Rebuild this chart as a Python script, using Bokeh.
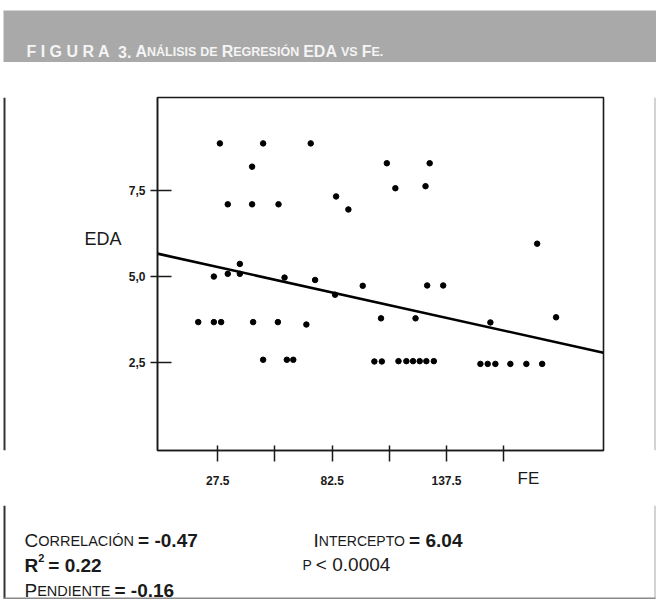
from bokeh.plotting import figure
from bokeh.models import FixedTicker, CustomJSTickFormatter, Range1d, LinearAxis
from bokeh.layouts import column, row
from bokeh.core.properties import value
from bokeh.embed import file_html
from bokeh.resources import INLINE

# ---------------- data ----------------
fe = [28.5, 49.3, 72.2, 108.8, 129.4, 44.0, 112.9, 127.4, 32.3, 44.0,
      56.7, 84.4, 90.3, 181.1, 38.1, 25.6, 32.3, 38.1, 59.6, 74.3,
      83.9, 97.2, 128.2, 135.9, 18.1, 25.6, 29.1, 44.5, 56.4, 70.1,
      106.0, 122.6, 158.6, 190.2, 49.3, 60.7, 63.8, 102.8, 106.4, 114.4,
      118.2, 121.4, 124.6, 127.8, 131.4, 153.8, 157.3, 161.0, 168.2, 175.9,
      183.5]
eda = [8.89, 8.89, 8.89, 8.31, 8.31, 8.21, 7.58, 7.64, 7.11, 7.11,
       7.11, 7.34, 6.96, 5.96, 5.37, 5.00, 5.08, 5.08, 4.97, 4.90,
       4.47, 4.73, 4.74, 4.74, 3.67, 3.67, 3.67, 3.67, 3.67, 3.60,
       3.78, 3.78, 3.66, 3.81, 2.57, 2.57, 2.57, 2.52, 2.52, 2.53,
       2.53, 2.53, 2.53, 2.53, 2.53, 2.45, 2.45, 2.45, 2.45, 2.45,
       2.45]
x_ticks = [27.5, 82.5, 137.5]
x_minor_ticks = [55, 110, 165]
y_ticks = [2.5, 5.0, 7.5]
x_lim = [-1.5, 213.0]
y_lim = [-0.08, 10.23]
reg_intercept = 5.65
reg_slope = -0.0135
x_title = "FE"
x_title_at = 176.9      # where the axis title sits along x
y_title = "EDA"
y_title_at = 6.11       # where the axis title sits along y

title_main = "F I G U R A"
title_num = "3."
stat_correlacion = "-0.47"
stat_r2 = "0.22"
stat_pendiente = "-0.16"
stat_intercepto = "6.04"
stat_p = "0.0004"

INK = "#1a1a1a"
FONT = "Liberation Sans"
WHITE = "#f4f4f4"
BAND = "#a9a9a9"

W = 656
H_HEAD = 62
H_MAIN = 443
H_FOOT = 96
LSTRIP = 6
RSTRIP = 4


def text_fig(w, h):
    f = figure(width=w, height=h, output_backend="svg", toolbar_location=None,
               x_range=Range1d(0, w), y_range=Range1d(h, 0),
               x_axis_type=None, y_axis_type=None, min_border=0,
               background_fill_color="white", border_fill_color="white")
    f.outline_line_color = None
    return f


REG = {'A': .667, 'C': .722, 'D': .722, 'E': .667, 'F': .611, 'G': .778, 'I': .278,
       'L': .556, 'N': .722, 'O': .778, 'P': .667, 'R': .722, 'S': .667, 'T': .611,
       'U': .722, 'V': .667, 'Á': .667, 'Ó': .778, ' ': .278, '.': .278, ',': .278,
       '-': .333, '=': .584, '<': .584}
BOLD = dict(REG)
BOLD.update({'A': .722, 'L': .611, 'Á': .722})


def text_width(t, size, weight):
    tab = BOLD if weight == "bold" else REG
    return sum(tab.get(c, .556) for c in t) * size


def draw_runs(f, runs, color):
    xs, ys, ts, sizes, styles = [], [], [], [], []
    for segs, x0, base in runs:
        x = x0
        for seg in segs:
            if isinstance(seg, (int, float)):
                x += seg
                continue
            t, size, weight = seg[0], seg[1], seg[2]
            rise = seg[3] if len(seg) > 3 else 0
            xs.append(x); ys.append(base - rise); ts.append(t)
            sizes.append(f"{size}px"); styles.append(weight)
            x += text_width(t, size, weight)
    f.text(x=xs, y=ys, text=ts, text_font=value(FONT), text_font_size=sizes,
           text_font_style=styles, text_color=color,
           text_align="left", text_baseline="alphabetic")


B, N = "bold", "normal"
SC = 12.5   # small-capital size in the header

# ---------------- header ----------------
head = text_fig(W, H_HEAD)
head.quad(left=[3], right=[W], top=[10], bottom=[H_HEAD], fill_color=BAND, line_color=None)
draw_runs(head, [([(title_main, 16, B), 8, (title_num, 16, B), 4,
                   ("A", 16, B), ("NÁLISIS", SC, B), 4, ("DE", SC, B), 4,
                   ("R", 16, B), ("EGRESIÓN", SC, B), 4, ("EDA", 16, B), 4,
                   ("VS", SC, B), 4, ("F", 16, B), ("E.", SC, B)], 26, 51)], WHITE)

# ---------------- main plot ----------------
p = figure(width=W - LSTRIP - RSTRIP, height=H_MAIN, output_backend="svg", toolbar_location=None,
           x_range=Range1d(*x_lim), y_range=Range1d(*y_lim),
           min_border_left=151, min_border_right=49, min_border_top=35, min_border_bottom=55,
           background_fill_color="white", border_fill_color="white")
p.grid.visible = False
p.outline_line_color = INK
p.outline_line_width = 1.6

xa = p.xaxis[0]
xa.ticker = FixedTicker(ticks=x_ticks, minor_ticks=x_minor_ticks)
xa.major_tick_in = 5
xa.major_tick_out = 11
xa.minor_tick_in = 5
xa.minor_tick_out = 11
xa.major_label_standoff = 14

ya = p.yaxis[0]
ya.ticker = FixedTicker(ticks=y_ticks, minor_ticks=[])
ya.major_tick_in = 14
ya.major_tick_out = 7
ya.major_label_standoff = 5
ya.formatter = CustomJSTickFormatter(code="return tick.toFixed(1).replace('.', ',')")

for ax in (xa, ya):
    ax.axis_line_color = INK
    ax.axis_line_width = 1.5
    ax.major_tick_line_color = INK
    ax.major_tick_line_width = 1.5
    ax.minor_tick_line_color = INK
    ax.minor_tick_line_width = 1.5
    ax.major_label_text_font = FONT
    ax.major_label_text_font_style = "bold"
    ax.major_label_text_font_size = "12px"
    ax.major_label_text_color = INK

# axis titles placed as single-tick label axes
x_title_axis = LinearAxis(ticker=FixedTicker(ticks=[x_title_at], minor_ticks=[]),
                          formatter=CustomJSTickFormatter(code=f"return '{x_title}'"),
                          major_tick_in=0, major_tick_out=0, axis_line_color=None,
                          major_label_standoff=-19, major_label_text_font=FONT,
                          major_label_text_font_size="17px", major_label_text_color=INK)
p.add_layout(x_title_axis, "below")
y_title_axis = LinearAxis(ticker=FixedTicker(ticks=[y_title_at], minor_ticks=[]),
                          formatter=CustomJSTickFormatter(code=f"return '{y_title}'"),
                          major_tick_in=0, major_tick_out=0, axis_line_color=None,
                          major_label_standoff=4, major_label_text_font=FONT,
                          major_label_text_font_size="18px", major_label_text_color=INK)
p.add_layout(y_title_axis, "left")

p.scatter(fe, eda, size=5.5, color="black")
line_x = [x_lim[0], x_lim[1]]
line_y = [reg_intercept + reg_slope * v for v in line_x]
p.line(line_x, line_y, line_color="black", line_width=2.6)

left_strip = text_fig(LSTRIP, H_MAIN)
left_strip.quad(left=[3], right=[5], top=[0], bottom=[H_MAIN], fill_color="#333333", line_color=None)
right_strip = text_fig(RSTRIP, H_MAIN)
right_strip.quad(left=[2], right=[3], top=[0], bottom=[H_MAIN], fill_color="#a8a8a8", line_color=None)

# ---------------- footer ----------------
foot = text_fig(W, H_FOOT)
foot.quad(left=[3], right=[5], top=[0], bottom=[93], fill_color="#333333", line_color=None)
foot.quad(left=[W - 2], right=[W - 1], top=[0], bottom=[93], fill_color="#a8a8a8", line_color=None)
foot.quad(left=[3], right=[W - 1], top=[92], bottom=[93.5], fill_color="#8a8a8a", line_color=None)
draw_runs(foot, [
    ([("C", 19, N), ("ORRELACIÓN", 14.5, N), 4, ("= " + stat_correlacion, 19, B)], 24, 35),
    ([("R", 19, B), ("2", 11, B, 8), 4, ("= " + stat_r2, 19, B)], 24, 60),
    ([("P", 19, N), ("ENDIENTE", 14.5, N), 4, ("= " + stat_pendiente, 19, B)], 24, 85),
    ([("I", 19, N), ("NTERCEPTO", 14, N), 4, ("= " + stat_intercepto, 19, B)], 313, 35),
    ([("P", 14, N), 4, ("< " + stat_p, 19, N)], 302, 59),
], INK)

layout = column(head, row(left_strip, p, right_strip), foot)
open("out.html", "w").write(file_html(layout, INLINE))
